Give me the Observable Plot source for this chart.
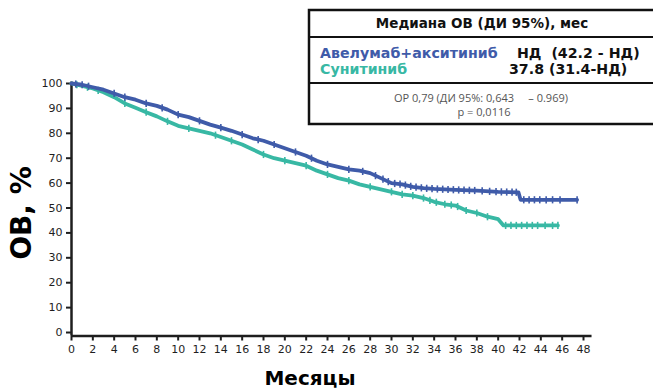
<!DOCTYPE html>
<html><head><meta charset="utf-8">
<script src="https://cdn.jsdelivr.net/npm/d3@7"></script>
<script src="https://cdn.jsdelivr.net/npm/@observablehq/plot@0.6"></script>
<style>
body{margin:0;background:#fff;}
#wrap{position:relative;width:653px;height:389px;overflow:hidden;background:#fff;}
#chart{position:absolute;left:0;top:0;}
#overlay{position:absolute;left:0;top:0;pointer-events:none;}
</style></head><body>
<div id="wrap"><div id="chart"></div>
<svg id="overlay" width="653" height="389" xmlns="http://www.w3.org/2000/svg"></svg>
</div>
<script>
// ---- data ----
const aveTime = [0,1,2,3,4,5,6,7,8,9,10,11,12,13,14,15,16,17,18,19,20,21,22,23,24,25,26,27,28,29,30,31,32,33,34,36,38,40,41.9,42.1,47.4];
const aveSurv = [100,99.5,98.5,97.5,96,94.5,93.5,92,91,89.5,87.5,86.5,85,83.5,82.3,81,79.5,78,77,75.5,74,72.5,71,69,67.5,66.5,65.5,65,64,62,60,59.5,58.5,58,57.7,57.3,57,56.5,56.3,53.3,53.3];
const sunTime = [0,1,2,3,4,5,6,7,8,9,10,11,12,13,14,15,16,17,18,19,20,21,22,23,24,25,26,27,28,29,30,31,32,33,34,35,36,37,38,39,40,40.5,45.6];
const sunSurv = [100,99,98,96.5,94.5,92,90.3,88.5,86.8,84.8,83,82,81,80,78.5,77,75.5,73.5,71.5,70,69,68,67,65,63.5,62,61,59.5,58.5,57.5,56.5,55.5,55,54,52.5,51.5,51,49,48,46.5,45.5,43,43];
const aveCensor = [0.4,1,1.6,4,5,7,8.5,10,12,14,16,17.5,19,21,22.5,24,26,27.3,28.5,29.2,29.7,30.3,30.8,31.3,31.8,32.3,32.8,33.3,33.8,34.3,34.8,35.3,35.8,36.3,36.8,37.3,37.8,38.5,39.2,39.8,40.3,40.8,41.3,41.7,42.4,42.9,43.4,43.9,44.5,45.1,45.8,47.4];
const sunCensor = [0.5,1.5,2.5,5,7,9,11,13.5,15,18,20,22,24,26,28,30,31,32,33,33.6,34.2,35,35.6,36.2,37,38,39,40.7,41.2,41.7,42.2,42.7,43.2,43.7,44.4,45.1,45.6];
const xTicks = [0,2,4,6,8,10,12,14,16,18,20,22,24,26,28,30,32,34,36,38,40,42,44,46,48];
const yTicks = [0,10,20,30,40,50,60,70,80,90,100];
const groupNames = ["Авелумаб+акситиниб","Сунитиниб"];
const groupMedians = ["НД  (42.2 - НД)","37.8 (31.4-НД)"];
const headerText = "Медиана ОВ (ДИ 95%), мес";
const statLines = ["ОР 0,79 (ДИ 95%: 0,643     – 0.969)","p = 0,0116"];
const xTitle = "Месяцы";
const yTitle = "ОВ, %";

const BLUE = "#3f5ba9", TEAL = "#38b8a4", INK = "#1e1e1e";

const toRows = (t, s) => t.map((d, i) => ({t: d, s: s[i]}));
const ave = toRows(aveTime, aveSurv);
const sun = toRows(sunTime, sunSurv);
// place censor marks on the drawn curve
const onCurve = (times, ts, ss) => times.map(c => {
  let i = 0; while (i < ts.length - 2 && ts[i + 1] < c) i++;
  const f = Math.max(0, Math.min(1, (c - ts[i]) / (ts[i + 1] - ts[i])));
  return {t: c, s: ss[i] + f * (ss[i + 1] - ss[i])};
});
const aveC = onCurve(aveCensor, aveTime, aveSurv);
const sunC = onCurve(sunCensor, sunTime, sunSurv);

const vbar = {draw(ctx, size){ const r = Math.sqrt(size / Math.PI); ctx.moveTo(0, -r); ctx.lineTo(0, r); }};

const chart = Plot.plot({
  width: 653, height: 389,
  marginLeft: 71, marginRight: 70, marginTop: 83, marginBottom: 53.5,
  x: {domain: [0, 48]},
  y: {domain: [-1.4, 100]},
  style: {fontFamily: "DejaVu Sans", fontSize: "11px", color: INK, background: "transparent"},
  marks: [
    Plot.axisX({ticks: xTicks, tickSize: 5, tickPadding: 4, label: null, strokeWidth: 2, fontSize: 11}),
    Plot.axisY({ticks: yTicks, tickSize: 5, tickPadding: 4, label: null, strokeWidth: 2, fontSize: 11}),
    Plot.ruleX([0], {y1: -1.4, y2: 100.6, stroke: INK, strokeWidth: 2.5}),
    Plot.ruleY([-1.4], {x1: 0, x2: 48.8, stroke: INK, strokeWidth: 2.5}),
    Plot.line(sun, {x: "t", y: "s", stroke: TEAL, strokeWidth: 3.8}),
    Plot.dot(sunC, {x: "t", y: "s", symbol: vbar, r: 3.6, fill: "none", stroke: TEAL, strokeWidth: 1.6}),
    Plot.line(ave, {x: "t", y: "s", stroke: BLUE, strokeWidth: 3.8}),
    Plot.dot(aveC, {x: "t", y: "s", symbol: vbar, r: 3.6, fill: "none", stroke: BLUE, strokeWidth: 1.6})
  ]
});
document.getElementById("chart").appendChild(chart);

// ---- legend box and titles ----
const ov = d3.select("#overlay");
const bx = 309, by = 10, bw = 360, bh = 114;
ov.append("rect").attr("x", bx).attr("y", by).attr("width", bw).attr("height", bh)
  .attr("fill", "#fff").attr("stroke", "#111").attr("stroke-width", 2.5);
[37, 83].forEach(yy => ov.append("line").attr("x1", bx).attr("x2", bx + bw).attr("y1", yy).attr("y2", yy)
  .attr("stroke", "#111").attr("stroke-width", 2.2));
const txt = (s, x, y, o = {}) => ov.append("text").text(s).attr("x", x).attr("y", y)
  .attr("font-family", o.ff || "DejaVu Sans").attr("font-size", o.fs || 13)
  .attr("font-weight", o.fw || "bold").attr("fill", o.fill || "#111")
  .attr("text-anchor", o.anchor || "start").style("white-space", "pre");
txt(headerText, 482, 28, {fs: 13.5, anchor: "middle"});
txt(groupNames[0], 320, 58, {fs: 14.2, fill: BLUE});
txt(groupMedians[0], 517, 58, {fs: 14.2});
txt(groupNames[1], 320, 74, {fs: 14.2, fill: TEAL});
txt(groupMedians[1], 509, 74, {fs: 14.2});
txt(statLines[0], 481, 102, {fs: 11, fw: "normal", fill: "#555", anchor: "middle", ff: "Open Sans"});
txt(statLines[1], 484, 116, {fs: 11, fw: "normal", fill: "#555", anchor: "middle", ff: "Open Sans"});
txt(xTitle, 310, 385, {fs: 20, anchor: "middle", fill: "#000"});
ov.append("text").text(yTitle).attr("transform", "translate(31,213) rotate(-90)")
  .attr("text-anchor", "middle").attr("font-family", "DejaVu Sans").attr("font-weight", "bold")
  .attr("font-size", 28).attr("fill", "#000");
</script>
</body></html>
